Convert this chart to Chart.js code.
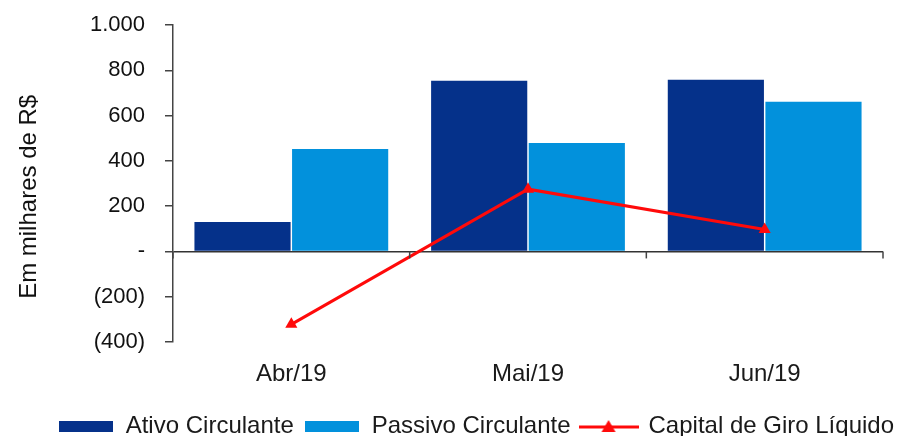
<!DOCTYPE html>
<html>
<head>
    <meta charset="utf-8">
    <title>Capital de Giro</title>
    <script src="https://cdn.jsdelivr.net/npm/chart.js"></script>
    <style>
        html, body { margin: 0; padding: 0; background: #fff; }
        .container { width: 904px; height: 436px; position: relative; }
    </style>
</head>
<body>
    <div class="container">
        <canvas id="chart"></canvas>
    </div>

    <script>
        // dados (em milhares de R$)
        var meses = ['Abr/19', 'Mai/19', 'Jun/19'];
        var ativoCirculante = [130, 754, 758];
        var passivoCirculante = [452, 479, 661];
        var capitalGiro = [-322, 275, 97];
        var yTicks = [-400, -200, 0, 200, 400, 600, 800, 1000];

        var corAtivo = '#05318a';
        var corPassivo = '#0291dc';
        var corLinha = '#ff0a0a';
        var fonte = '"Liberation Sans", Arial, sans-serif';

        function formatar(v) {
            if (v === 0) return '-';
            var s = String(Math.abs(v)).replace(/\B(?=(\d{3})+(?!\d))/g, '.');
            return v < 0 ? '(' + s + ')' : s;
        }

        // ícones da legenda
        function caixa(cor) {
            var c = document.createElement('canvas');
            c.width = 54; c.height = 11;
            var g = c.getContext('2d');
            g.fillStyle = cor;
            g.fillRect(0, 0, 54, 11);
            return c;
        }
        function linhaTriangulo() {
            var c = document.createElement('canvas');
            c.width = 60; c.height = 16;
            var g = c.getContext('2d');
            g.strokeStyle = corLinha;
            g.lineWidth = 3;
            g.beginPath(); g.moveTo(0, 9); g.lineTo(60, 9); g.stroke();
            g.fillStyle = corLinha;
            g.beginPath(); g.moveTo(30, 2); g.lineTo(37, 14); g.lineTo(23, 14); g.closePath(); g.fill();
            return c;
        }

        // marcas pequenas no eixo zero entre as categorias
        var marcasZero = {
            id: 'marcasZero',
            afterDatasetsDraw: function(chart) {
                var x = chart.scales.x, y = chart.scales.y, ctx = chart.ctx;
                var y0 = y.getPixelForValue(0);
                ctx.save();
                ctx.strokeStyle = '#444';
                ctx.lineWidth = 1.5;
                for (var i = 0; i <= meses.length; i++) {
                    var px = x.getPixelForValue(i - 0.5);
                    ctx.beginPath();
                    ctx.moveTo(px, y0);
                    ctx.lineTo(px, y0 + 7);
                    ctx.stroke();
                }
                ctx.restore();
            }
        };

        var ctx = document.getElementById('chart').getContext('2d');
        var chart = new Chart(ctx, {
            type: 'bar',
            data: {
                labels: meses,
                datasets: [{
                    label: 'Ativo Circulante',
                    data: ativoCirculante,
                    backgroundColor: corAtivo,
                    order: 1,
                    categoryPercentage: 0.825,
                    barPercentage: 0.985
                }, {
                    label: 'Passivo Circulante',
                    data: passivoCirculante,
                    backgroundColor: corPassivo,
                    order: 1,
                    categoryPercentage: 0.825,
                    barPercentage: 0.985
                }, {
                    type: 'line',
                    label: 'Capital de Giro Líquido',
                    data: capitalGiro,
                    borderColor: corLinha,
                    backgroundColor: corLinha,
                    borderWidth: 3,
                    pointStyle: 'triangle',
                    pointRadius: 7,
                    pointBorderWidth: 0,
                    order: 0
                }]
            },
            options: {
                responsive: true,
                maintainAspectRatio: false,
                animation: false,
                layout: { padding: { top: 25, right: 0, left: 0, bottom: -12 } },
                plugins: {
                    tooltip: { enabled: false },
                    legend: {
                        position: 'bottom',
                        align: 'end',
                        labels: {
                            usePointStyle: true,
                            pointStyleWidth: 56,
                            padding: 10,
                            color: '#1a1a1a',
                            font: { family: fonte, size: 24 },
                            generateLabels: function(chart) {
                                var icones = [caixa(corAtivo), caixa(corPassivo), linhaTriangulo()];
                                return chart.data.datasets.map(function(ds, i) {
                                    return {
                                        text: ds.label,
                                        pointStyle: icones[i],
                                        fillStyle: 'transparent',
                                        strokeStyle: 'transparent',
                                        lineWidth: 0,
                                        datasetIndex: i,
                                        fontColor: '#1a1a1a'
                                    };
                                });
                            }
                        }
                    }
                },
                scales: {
                    x: {
                        grid: { display: false, drawTicks: false },
                        border: { display: false },
                        ticks: {
                            color: '#1a1a1a',
                            padding: 18,
                            font: { family: fonte, size: 24 }
                        },
                        afterFit: function(scale) { scale.height = 62; }
                    },
                    y: {
                        min: -400,
                        max: 1000,
                        afterBuildTicks: function(scale) {
                            scale.ticks = yTicks.map(function(v) { return { value: v }; });
                        },
                        afterFit: function(scale) {
                            scale.width = 173;
                            scale.paddingTop = 0;
                            scale.paddingBottom = 0;
                        },
                        border: { display: true, color: '#444', width: 1.5 },
                        grid: {
                            drawOnChartArea: true,
                            drawTicks: true,
                            tickLength: 8,
                            tickColor: '#444',
                            lineWidth: 1.5,
                            color: function(c) {
                                return c.tick && c.tick.value === 0 ? '#333' : 'rgba(0,0,0,0)';
                            }
                        },
                        ticks: {
                            color: '#111',
                            padding: 20,
                            font: { family: fonte, size: 22 },
                            callback: function(v) { return formatar(v); }
                        },
                        title: {
                            display: true,
                            text: 'Em milhares de R$\u00a0\u00a0\u00a0\u00a0',
                            color: '#111',
                            padding: { top: 15, bottom: 0 },
                            font: { family: fonte, size: 24 }
                        }
                    },
                    // eixo vazio só para deixar a margem direita da área do gráfico
                    margem: {
                        position: 'right',
                        display: true,
                        grid: { display: false, drawTicks: false },
                        border: { display: false },
                        ticks: { display: false },
                        afterFit: function(scale) { scale.width = 21; }
                    }
                }
            },
            plugins: [marcasZero]
        });
    </script>
</body>
</html>
